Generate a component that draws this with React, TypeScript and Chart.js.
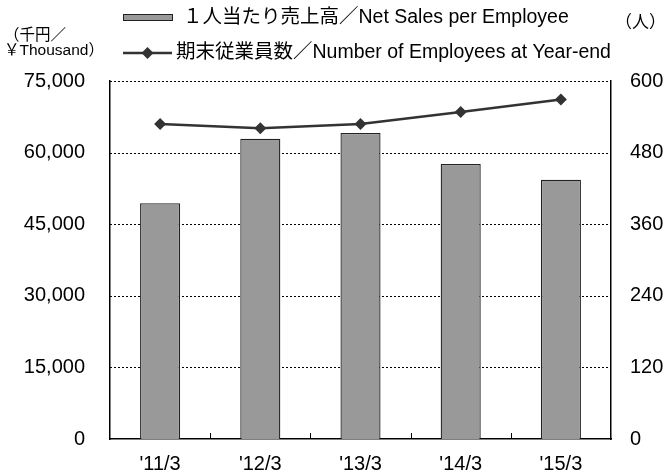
import React, { useEffect, useRef } from "react";
import { Chart, registerables } from "chart.js";

Chart.register(...registerables);

const categories = ["'11/3", "'12/3", "'13/3", "'14/3", "'15/3"];
const salesPerEmployee = [49400, 62900, 64100, 57600, 54300];
const employees = [528, 521, 528, 548, 569];
const leftTicks = [0, 15000, 30000, 45000, 60000, 75000];
const rightTicks = [0, 120, 240, 360, 480, 600];
const barLabel = "１人当たり売上高／Net Sales per Employee";
const lineLabel = "期末従業員数／Number of Employees at Year-end";
const leftTitle = ["（千円／", "￥Thousand）"];
const rightTitle = "（人）";

const FONT = "'Liberation Sans', Arial, 'Noto Sans CJK JP', sans-serif";

const overlayPlugin = {
  id: "overlay",
  afterDraw(chart: any) {
    const ctx = chart.ctx;
    const ds = chart.data.datasets;
    const area = chart.chartArea;
    const x = chart.scales.x;
    ctx.save();
    // inward ticks at category boundaries
    ctx.strokeStyle = "#000";
    ctx.lineWidth = 1;
    for (let i = 1; i < categories.length; i++) {
      const px = Math.round((x.getPixelForValue(i - 1) + x.getPixelForValue(i)) / 2) + 0.5;
      ctx.beginPath();
      ctx.moveTo(px, area.bottom);
      ctx.lineTo(px, area.bottom - 6);
      ctx.stroke();
    }
    // legend
    ctx.fillStyle = ds[0].backgroundColor;
    ctx.strokeStyle = ds[0].borderColor;
    ctx.lineWidth = 1;
    ctx.fillRect(123, 14, 50, 7);
    ctx.strokeRect(123.5, 14.5, 49, 6);
    ctx.fillStyle = "#000";
    ctx.font = `19.5px ${FONT}`;
    ctx.textBaseline = "middle";
    ctx.textAlign = "left";
    ctx.fillText(ds[0].label, 183, 18);

    ctx.strokeStyle = ds[1].borderColor;
    ctx.lineWidth = 2.5;
    ctx.beginPath();
    ctx.moveTo(123, 53);
    ctx.lineTo(172, 53);
    ctx.stroke();
    ctx.fillStyle = ds[1].pointBackgroundColor;
    ctx.beginPath();
    ctx.moveTo(147.5 - 6, 53);
    ctx.lineTo(147.5, 47);
    ctx.lineTo(147.5 + 6, 53);
    ctx.lineTo(147.5, 59);
    ctx.closePath();
    ctx.fill();
    ctx.fillStyle = "#000";
    ctx.fillText(ds[1].label, 176, 53);

    // axis titles
    ctx.font = `15.5px ${FONT}`;
    ctx.fillText(leftTitle[0], 4, 36);
    ctx.fillText(leftTitle[1], 4, 51);
    ctx.font = `17px ${FONT}`;
    ctx.fillText(rightTitle, 615, 23);
    ctx.restore();
  },
};

export default function App() {
  const ref = useRef<HTMLCanvasElement | null>(null);
  useEffect(() => {
    if (!ref.current) return;
    const chart = new Chart(ref.current, {
      type: "bar",
      data: {
        labels: categories,
        datasets: [
          {
            type: "bar",
            label: barLabel,
            data: salesPerEmployee,
            backgroundColor: "#999999",
            borderColor: "#222222",
            borderWidth: 1.3,
            barPercentage: 0.4,
            categoryPercentage: 1,
            yAxisID: "y",
            order: 2,
          },
          {
            type: "line",
            label: lineLabel,
            data: employees,
            borderColor: "#333333",
            borderWidth: 2.5,
            pointStyle: "rectRot",
            pointRadius: 6,
            pointBackgroundColor: "#333333",
            pointBorderColor: "#333333",
            pointBorderWidth: 0,
            yAxisID: "y1",
            order: 1,
          } as any,
        ],
      },
      options: {
        animation: false,
        responsive: false,
        devicePixelRatio: 1,
        layout: { padding: { top: 81, left: 0, right: 0, bottom: 0 } },
        plugins: { legend: { display: false }, tooltip: { enabled: false } },
        scales: {
          x: {
            grid: { display: false, drawTicks: false },
            border: { display: true, color: "#000", width: 1.5 },
            ticks: { color: "#000", font: { family: FONT, size: 20 }, padding: 13 },
            afterFit: (s: any) => { s.height = 33; },
          },
          y: {
            position: "left",
            min: 0,
            max: 75000,
            afterBuildTicks: (s: any) => { s.ticks = leftTicks.map((v) => ({ value: v })); },
            grid: { display: false, drawTicks: false },
            border: { display: true, color: "#000", width: 1.5 },
            ticks: {
              color: "#000",
              font: { family: FONT, size: 20 },
              padding: 25,
              callback: (v: any) => Number(v).toLocaleString("en-US"),
            },
            afterFit: (s: any) => { s.width = 110; },
          } as any,
          y1: {
            position: "right",
            min: 0,
            max: 600,
            afterBuildTicks: (s: any) => { s.ticks = rightTicks.map((v) => ({ value: v })); },
            grid: { display: false, drawTicks: false },
            border: { display: true, color: "#000", width: 1.5 },
            ticks: { color: "#000", font: { family: FONT, size: 20 }, padding: 19 },
            afterFit: (s: any) => { s.width = 54; },
          },
        },
      },
      plugins: [
        {
          id: "dottedGrid",
          beforeDatasetsDraw(chart: any) {
            const ctx = chart.ctx;
            const y = chart.scales.y;
            const a = chart.chartArea;
            ctx.save();
            ctx.strokeStyle = "#000";
            ctx.lineWidth = 1;
            ctx.setLineDash([2, 2]);
            leftTicks.forEach((v) => {
              if (v === 0) return;
              const py = Math.round(y.getPixelForValue(v)) + 0.5;
              ctx.beginPath();
              ctx.moveTo(a.left, py);
              ctx.lineTo(a.right, py);
              ctx.stroke();
            });
            ctx.restore();
          },
        },
        overlayPlugin,
      ],
    } as any);
    return () => chart.destroy();
  }, []);
  return (
    <div style={{ position: "fixed", left: 0, top: 0, width: 665, height: 476, background: "#fff" }}>
      <canvas ref={ref} width={665} height={476} style={{ width: 665, height: 476, display: "block" }} />
    </div>
  );
}
